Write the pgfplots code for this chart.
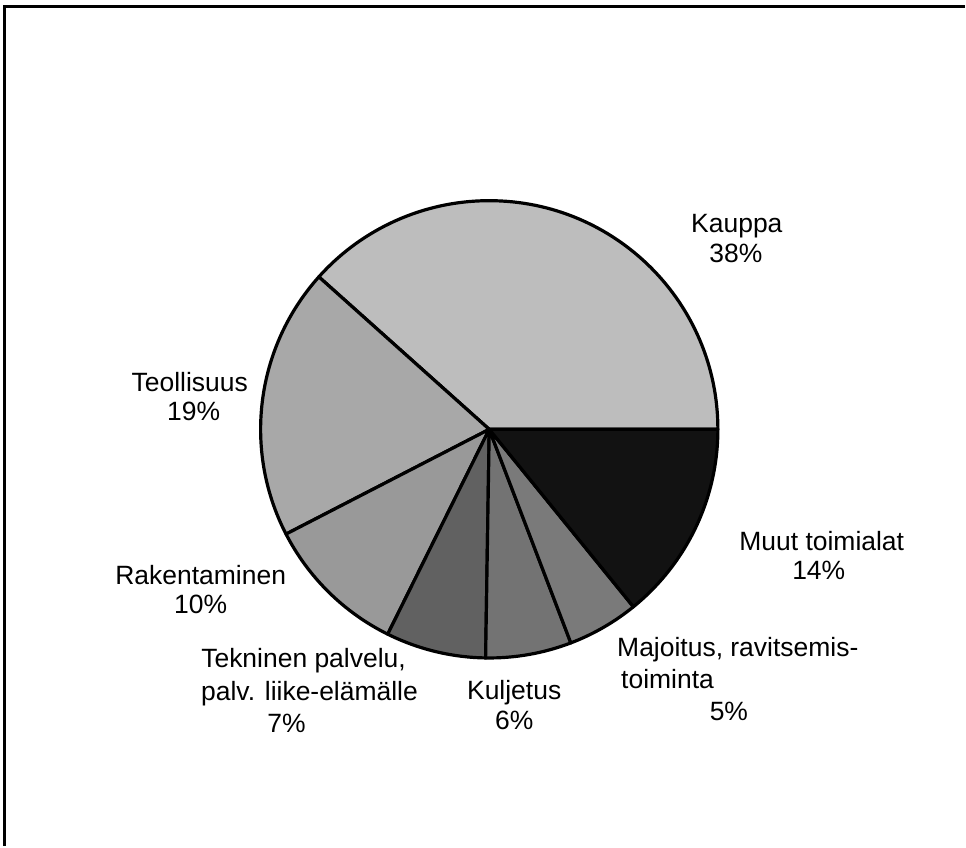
\documentclass[border=0pt]{standalone}
\usepackage{pgfplots}
\pgfplotsset{compat=1.18}
\usepackage{fontspec}
\setmainfont{Liberation Sans}

% slice: #1 = cumulative share before the slice, #2 = share (%), #3 = fill
\newcommand{\slice}[3]{%
  \filldraw[fill=#3, draw=black, line width=3.2pt, line join=round]
    (axis cs:490,417) -- ++({#1*3.63636}:229pt)
    arc[start angle={#1*3.63636}, end angle={(#1+#2)*3.63636}, radius=229pt] -- cycle;}

\begin{document}
\begin{tikzpicture}
\begin{axis}[
  width=966pt, height=847pt, scale only axis,
  xmin=0, xmax=966, ymin=0, ymax=847,
  hide axis, clip=false,
]
\addplot[draw=none, forget plot] coordinates {(0,0) (966,847)};
% frame (top and left edges, as in the scan)
\draw[line width=3pt] (axis cs:5,0) -- (axis cs:5,840) -- (axis cs:966,840);

% shares: Kauppa 38, Teollisuus 19, Rakentaminen 10, Tekninen 7, Kuljetus 6, Majoitus 5, Muut 14 (sum 99)
\slice{0}{38}{black!26}
\slice{38}{19}{black!34}
\slice{57}{10}{black!40}
\slice{67}{7}{black!62}
\slice{74}{6}{black!55}
\slice{80}{5}{black!52}
\slice{85}{14}{black!93}

\node[font=\fontsize{26.5}{31}\selectfont, anchor=base, inner sep=0pt] at (axis cs:738,614) {Kauppa};
\node[font=\fontsize{26.5}{31}\selectfont, anchor=base, inner sep=0pt] at (axis cs:737,584) {38\%};
\node[font=\fontsize{26.5}{31}\selectfont, anchor=base, inner sep=0pt] at (axis cs:190,455) {Teollisuus};
\node[font=\fontsize{26.5}{31}\selectfont, anchor=base, inner sep=0pt] at (axis cs:194,426) {19\%};
\node[font=\fontsize{26.5}{31}\selectfont, anchor=base, inner sep=0pt] at (axis cs:201,262) {Rakentaminen};
\node[font=\fontsize{26.5}{31}\selectfont, anchor=base, inner sep=0pt] at (axis cs:201,233) {10\%};
\node[font=\fontsize{26.5}{31}\selectfont, anchor=base, inner sep=0pt] at (axis cs:304,178) {Tekninen palvelu,};
\node[font=\fontsize{26.5}{31}\selectfont, anchor=base, inner sep=0pt] at (axis cs:310,145) {palv. liike-elämälle};
\node[font=\fontsize{26.5}{31}\selectfont, anchor=base, inner sep=0pt] at (axis cs:287,113) {7\%};
\node[font=\fontsize{26.5}{31}\selectfont, anchor=base, inner sep=0pt] at (axis cs:515,146) {Kuljetus};
\node[font=\fontsize{26.5}{31}\selectfont, anchor=base, inner sep=0pt] at (axis cs:515,116) {6\%};
\node[font=\fontsize{26.5}{31}\selectfont, anchor=base west, inner sep=0pt] at (axis cs:618,189) {Majoitus, ravitsemis-};
\node[font=\fontsize{26.5}{31}\selectfont, anchor=base west, inner sep=0pt] at (axis cs:622,157) {toiminta};
\node[font=\fontsize{26.5}{31}\selectfont, anchor=base, inner sep=0pt] at (axis cs:730,125) {5\%};
\node[font=\fontsize{26.5}{31}\selectfont, anchor=base, inner sep=0pt] at (axis cs:823,296) {Muut toimialat};
\node[font=\fontsize{26.5}{31}\selectfont, anchor=base, inner sep=0pt] at (axis cs:820,267) {14\%};
\end{axis}
\end{tikzpicture}
\end{document}
